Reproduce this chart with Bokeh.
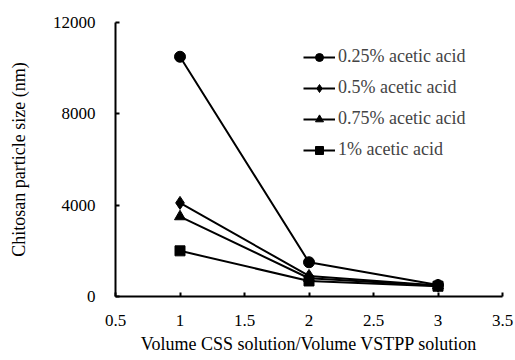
from bokeh.plotting import figure
from bokeh.models import Range1d, FixedTicker, Legend, LegendItem
from bokeh.embed import file_html
from bokeh.resources import INLINE

x_vals = [1, 2, 3]
s_025 = [10500, 1500, 500]
s_05 = [4100, 900, 480]
s_075 = [3500, 800, 470]
s_1 = [2000, 680, 450]
labels = ["0.25% acetic acid", "0.5% acetic acid", "0.75% acetic acid", "1% acetic acid"]
x_ticks = [0.5, 1, 1.5, 2, 2.5, 3, 3.5]
y_ticks = [0, 4000, 8000, 12000]

FONT = "Times"

p = figure(width=515, height=360, output_backend="svg", toolbar_location=None,
           x_range=Range1d(0.5, 3.5), y_range=Range1d(0, 12000),
           min_border_left=115, min_border_right=13, min_border_top=22, min_border_bottom=64)
p.outline_line_color = None
p.xgrid.visible = False
p.ygrid.visible = False

series = [s_025, s_05, s_075, s_1]
markers = ["circle", "diamond", "triangle", "square"]
sizes = [11, 13, 11, 10]
items = []
for ys, m, sz, lab in zip(series, markers, sizes, labels):
    l = p.line(x_vals, ys, line_color="black", line_width=2)
    s = p.scatter(x_vals, ys, marker=m, size=sz, fill_color="black", line_color="black")
    items.append(LegendItem(label=lab, renderers=[l, s]))

legend = Legend(items=items, location=(188, 136), padding=0, margin=0, spacing=10,
                label_height=20, glyph_height=20, glyph_width=32, label_standoff=3,
                label_text_font=FONT, label_text_font_size="18px",
                border_line_color=None, background_fill_alpha=0)
p.add_layout(legend, "center")

for ax in (p.xaxis[0], p.yaxis[0]):
    ax.axis_line_width = 2
    ax.axis_line_color = "black"
    ax.major_tick_in = 4
    ax.major_tick_out = 0
    ax.major_tick_line_width = 2
    ax.minor_tick_in = 0
    ax.minor_tick_out = 0
    ax.major_label_text_font = FONT
    ax.major_label_text_font_size = "17px"
    ax.major_label_text_color = "black"
    ax.axis_label_text_font = FONT
    ax.axis_label_text_font_size = "18px"
    ax.axis_label_text_font_style = "normal"
    ax.axis_label_text_color = "black"

p.xaxis.ticker = FixedTicker(ticks=x_ticks)
p.yaxis.ticker = FixedTicker(ticks=y_ticks)
p.xaxis.major_label_standoff = 18
p.yaxis.major_label_standoff = 20
p.xaxis.axis_label = "Volume CSS solution/Volume VSTPP solution"
p.yaxis.axis_label = "Chitosan particle size (nm)"
p.xaxis.axis_label_standoff = 5
p.yaxis.axis_label_standoff = 21

open("out.html", "w").write(file_html(p, INLINE))
